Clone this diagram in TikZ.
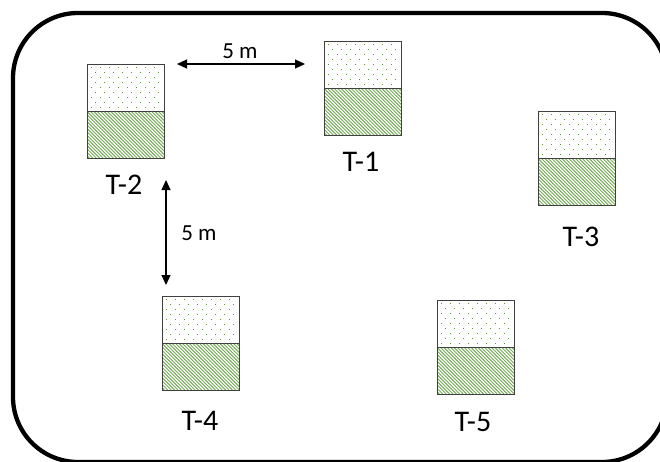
\documentclass[tikz,border=0pt]{standalone}
\usepackage{fontspec}
\setmainfont{Carlito}
\usetikzlibrary{arrows.meta}
\definecolor{tankgreen}{RGB}{90,150,55}
\definecolor{hatchgreen}{RGB}{118,170,88}
\tikzset{
  frame/.style={line width=4.3pt, rounded corners=65pt},
  tankbox/.style={draw=black!75, line width=1pt, minimum width=77pt, minimum height=94pt, inner sep=0pt},
  tanklabel/.style={font=\fontsize{30}{32}\selectfont, inner sep=0pt},
  dimlabel/.style={font=\fontsize{23}{26}\selectfont, inner sep=0pt},
  dimarrow/.style={line width=1.2pt, {Triangle[length=10pt,width=9pt]}-{Triangle[length=10pt,width=9pt]}},
  hatchline/.style={draw=hatchgreen, line width=0.95pt},
  dotmark/.style={fill=tankgreen}
}
% \tankat{name}{left}{top}{label}{label x}{label y}
\newcommand{\tankat}[6]{%
  \begin{scope}
    \clip (#2,#3+47) rectangle (#2+77,#3+94);
    \foreach \k in {-48,-44.6,...,80}
      \draw[hatchline] (#2+\k,#3+47) -- (#2+\k+47,#3+94);
  \end{scope}
  \foreach \r in {0,...,8}{%
    \pgfmathsetmacro{\off}{mod(\r,2)*4.5}
    \foreach \c in {0,...,7}{%
      \fill[dotmark] (#2+4+\off+\c*9-0.5,#3+3+\r*5-0.5) rectangle ++(1.2,1.2);
    }%
  }
  \node[tankbox] (#1) at (#2+38.5,#3+47) {};
  \draw[black!75, line width=1pt] (#1.west) -- (#1.east);
  \node[tanklabel] (#1-label) at (#5,#6) {#4};
}
\begin{document}
\begin{tikzpicture}[x=1pt,y=-1pt]
  \useasboundingbox (0,0) rectangle (660,461);
  \clip (0,0) rectangle (660,461);
  \fill[white] (0,0) rectangle (660,461);
  % site boundary
  \draw[frame] (13,13) rectangle (667,462);
  % tanks
  \tankat{t1}{324}{41}{T-1}{361}{162}
  \tankat{t2}{87}{64}{T-2}{124}{185}
  \tankat{t3}{538}{111}{T-3}{581}{237}
  \tankat{t4}{162}{296}{T-4}{200}{421}
  \tankat{t5}{437}{300}{T-5}{473}{422}
  % spacing dimensions
  \coordinate (h-left) at (177,64);
  \coordinate (h-right) at (305,64);
  \draw[dimarrow] (h-left) -- (h-right);
  \node[dimlabel] (h-dim) at (240,51) {5 m};
  \coordinate (v-top) at (166,180);
  \coordinate (v-bottom) at (166,285);
  \draw[dimarrow] (v-top) -- (v-bottom);
  \node[dimlabel] (v-dim) at (199,233) {5 m};
\end{tikzpicture}
\end{document}
